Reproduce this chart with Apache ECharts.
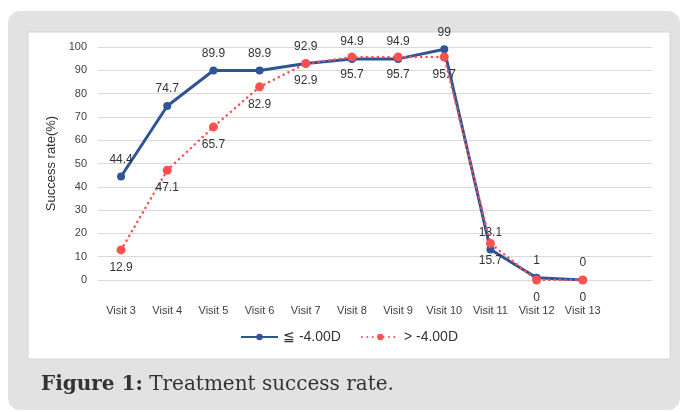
<!DOCTYPE html>
<html><head><meta charset="utf-8">
<script src="https://cdn.jsdelivr.net/npm/echarts@6/dist/echarts.min.js"></script>
<style>html,body{margin:0;padding:0;background:#fff}#c{width:680px;height:412px}</style>
</head><body><div id="c"></div>
<script>
var categories = ['Visit 3','Visit 4','Visit 5','Visit 6','Visit 7','Visit 8','Visit 9','Visit 10','Visit 11','Visit 12','Visit 13',''];
var seriesNames = ['≦ -4.00D', '> -4.00D'];
var lowMyopia = [44.4, 74.7, 89.9, 89.9, 92.9, 94.9, 94.9, 99, 13.1, 1, 0, null];
var highMyopia = [12.9, 47.1, 65.7, 82.9, 92.9, 95.7, 95.7, 95.7, 15.7, 0, 0, null];
var yTicks = [0, 10, 20, 30, 40, 50, 60, 70, 80, 90, 100];

var chart = echarts.init(document.getElementById('c'), null, {renderer: 'canvas'});
var font = '"Liberation Sans", Arial, sans-serif';
var serif = '"DejaVu Serif", serif';
chart.setOption({
  animation: false,
  graphic: [
    {type: 'rect', z: -10, shape: {x: 8, y: 11, width: 672, height: 399, r: 12}, style: {fill: '#e2e2e2'}},
    {type: 'rect', z: -9, shape: {x: 28, y: 32, width: 642, height: 327}, style: {fill: '#fff', stroke: '#d6d6d6', lineWidth: 1}},
    {type: 'text', z: 5, left: 41, top: 375, style: {
      text: '{b|Figure 1:} Treatment success rate.',
      rich: {b: {fontWeight: 'bold', fontFamily: serif, fontSize: 20, fill: '#333'}},
      fontFamily: serif, fontSize: 20, fill: '#333'}}
  ],
  grid: {left: 98, right: 28, top: 47, bottom: 132, containLabel: false},
  legend: {
    data: seriesNames, top: 325, left: 235, itemWidth: 37, itemHeight: 8, itemGap: 20,
    textStyle: {fontFamily: font, fontSize: 14, color: '#333'}
  },
  xAxis: {
    type: 'category', data: categories, boundaryGap: true,
    axisLine: {show: false}, axisTick: {show: false},
    axisLabel: {margin: 25, fontFamily: font, fontSize: 11, color: '#404040', interval: 0}
  },
  yAxis: {
    type: 'value', min: 0, max: 100, interval: 10,
    name: 'Success rate(%)', nameLocation: 'middle', nameGap: 30, nameRotate: 90,
    nameTextStyle: {fontFamily: font, fontSize: 13, color: '#333'},
    axisLine: {show: false}, axisTick: {show: false},
    axisLabel: {margin: 11, fontFamily: font, fontSize: 11, color: '#404040',
      formatter: function (v) { return yTicks.indexOf(v) >= 0 ? String(v) : ''; }},
    splitLine: {lineStyle: {color: '#d9d9d9', width: 1}}
  },
  series: [
    {
      name: seriesNames[0], type: 'line', data: lowMyopia, z: 3,
      symbol: 'circle', symbolSize: 8,
      lineStyle: {color: '#2f5597', width: 3}, itemStyle: {color: '#2f5597'},
      label: {show: true, position: 'top', distance: 7, fontFamily: font, fontSize: 12, color: '#333'}
    },
    {
      name: seriesNames[1], type: 'line', data: highMyopia, z: 4,
      symbol: 'circle', symbolSize: 9,
      lineStyle: {color: '#ff5050', width: 2.6, type: [0.01, 5.4], cap: 'round'}, itemStyle: {color: '#ff5050'},
      label: {show: true, position: 'bottom', distance: 7, fontFamily: font, fontSize: 12, color: '#333'}
    }
  ]
});
</script></body></html>
